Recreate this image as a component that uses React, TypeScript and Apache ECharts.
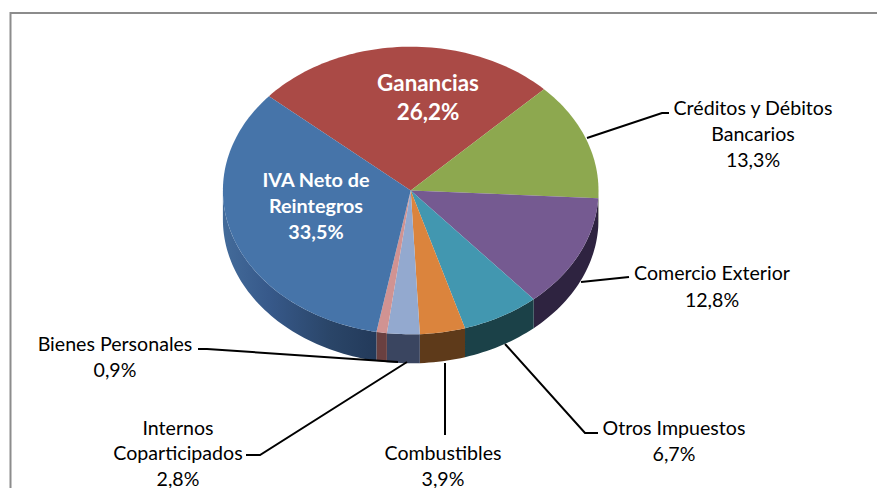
import React, { useEffect, useRef } from "react";
import * as echarts from "echarts";

const categories = [
  "Ganancias",
  "Créditos y Débitos Bancarios",
  "Comercio Exterior",
  "Otros Impuestos",
  "Combustibles",
  "Internos Coparticipados",
  "Bienes Personales",
  "IVA Neto de Reintegros",
];
const values = [26.2, 13.3, 12.8, 6.7, 3.9, 2.8, 0.9, 33.5];
const valueLabels = ["26,2%", "13,3%", "12,8%", "6,7%", "3,9%", "2,8%", "0,9%", "33,5%"];
const labelLines = [
  ["Ganancias"],
  ["Créditos y Débitos", "Bancarios"],
  ["Comercio Exterior"],
  ["Otros Impuestos"],
  ["Combustibles"],
  ["Internos", "Coparticipados"],
  ["Bienes Personales"],
  ["IVA Neto de", "Reintegros"],
];
const topColors = ["#AA4A46", "#8DA84F", "#755A91", "#4297B0", "#DB843D", "#93A9CF", "#D19392", "#4674A9"];
const sideColors = ["#6b2e2c", "#58692f", "#2E2340", "#1B4148", "#5E3A1A", "#3A4560", "#6A4040", "#2C4A70"];

// page layout of the labels: [text centre x, first line y, line height]
const labelPos = [
  [428, 82, 29],
  [753, 107, 26],
  [712, 272, 27],
  [674, 427, 26],
  [443, 452, 26],
  [178, 427, 25.5],
  [115, 343, 26],
  [316, 179, 26],
];
const leaderLines: (number[][] | null)[] = [
  null,
  [[587, 138], [662, 113], [669, 113]],
  [[581, 282], [629, 277]],
  [[505, 344], [585, 433], [598, 433]],
  [[445, 363], [445, 435]],
  [[407, 362], [260, 455], [246, 455]],
  [[398, 362], [207, 349], [198, 349]],
  null,
];

const CX = 410.7;
const CY = 190.5;
const RX = 187.8;
const RY = 143.8;
const DEPTH = 29;
const START = -49;
const FONT = "Lato";

const total = values.reduce((a, b) => a + b, 0);
const pt = (deg: number, dy = 0) => {
  const r = (deg * Math.PI) / 180;
  return [CX + RX * Math.sin(r), CY - RY * Math.cos(r) + dy];
};
const arcPts = (a: number, b: number, dy = 0) => {
  const out: number[][] = [];
  const n = Math.max(2, Math.ceil(Math.abs(b - a) / 1.5));
  for (let i = 0; i <= n; i++) out.push(pt(a + ((b - a) * i) / n, dy));
  return out;
};

function renderItem(params: any, api: any) {
  const i = params.dataIndex;
  const v = api.value(1);
  let before = 0;
  for (let k = 0; k < i; k++) before += values[k];
  const a0 = START + (before / total) * 360;
  const a1 = a0 + (v / total) * 360;
  const children: any[] = [];

  // the wall is the part of the slice that lies on the front half (90..270 degrees)
  const s0 = Math.max(a0, 90);
  const s1 = Math.min(a1, 270);
  if (s1 > s0) {
    const front = arcPts(s0, s1);
    const back = arcPts(s0, s1, DEPTH).reverse();
    const fill =
      i === 7
        ? new echarts.graphic.LinearGradient(0, 0, 1, 0, [
            { offset: 0, color: "#436B9A" },
            { offset: 0.3, color: "#37598A" },
            { offset: 0.7, color: "#2A4568" },
            { offset: 1, color: "#233A5A" },
          ])
        : sideColors[i];
    children.push({
      type: "polygon",
      shape: { points: front.concat(back) },
      style: { fill },
    });
  }
  children.push({
    type: "polygon",
    shape: { points: [[CX, CY]].concat(arcPts(a0, a1)) },
    style: { fill: topColors[i] },
  });
  return { type: "group", children };
}

function renderLabel(params: any) {
  const i = params.dataIndex;
  const children: any[] = [];
  const leader = leaderLines[i];
  const inside = leader === null;
  if (leader) {
    children.push({
      type: "polyline",
      shape: { points: leader },
      style: { stroke: "#000", lineWidth: 2, fill: "none" },
    });
  }
  const [x, y, lh] = labelPos[i];
  labelLines[i].concat(valueLabels[i]).forEach((line, k) => {
    children.push({
      type: "text",
      style: {
        x,
        y: y + k * lh,
        text: line,
        fill: inside ? "#fff" : "#000",
        font: `${inside ? "bold " : ""}${i === 0 ? 22.4 : inside ? 19.8 : 19.6}px ${FONT}`,
        align: "center",
        verticalAlign: "middle",
      },
    });
  });
  return { type: "group", children };
}

export default function App() {
  const ref = useRef<HTMLDivElement>(null);
  useEffect(() => {
    document.body.style.margin = "0";
    const chart = echarts.init(ref.current!, undefined, { renderer: "svg" });
    chart.setOption({
      animation: false,
      backgroundColor: "#fff",
      graphic: [
        {
          type: "polyline",
          shape: { points: [[10.5, 488], [10.5, 13], [877, 13]] },
          style: { stroke: "#8C8C8C", lineWidth: 2, fill: "none" },
        },
      ],
      xAxis: { show: false, type: "category", data: categories },
      yAxis: { show: false, type: "value" },
      grid: { left: 0, right: 0, top: 0, bottom: 0 },
      series: [
        {
          type: "custom",
          coordinateSystem: "none",
          renderItem,
          data: categories.map((c, i) => [c, values[i]]),
          encode: { itemName: 0, value: 1 },
          z: 2,
        },
        {
          type: "custom",
          coordinateSystem: "none",
          renderItem: renderLabel,
          data: categories.map((c, i) => [c, values[i]]),
          z: 3,
        },
      ],
    });
    return () => chart.dispose();
  }, []);
  return <div ref={ref} style={{ width: 877, height: 488 }} />;
}
